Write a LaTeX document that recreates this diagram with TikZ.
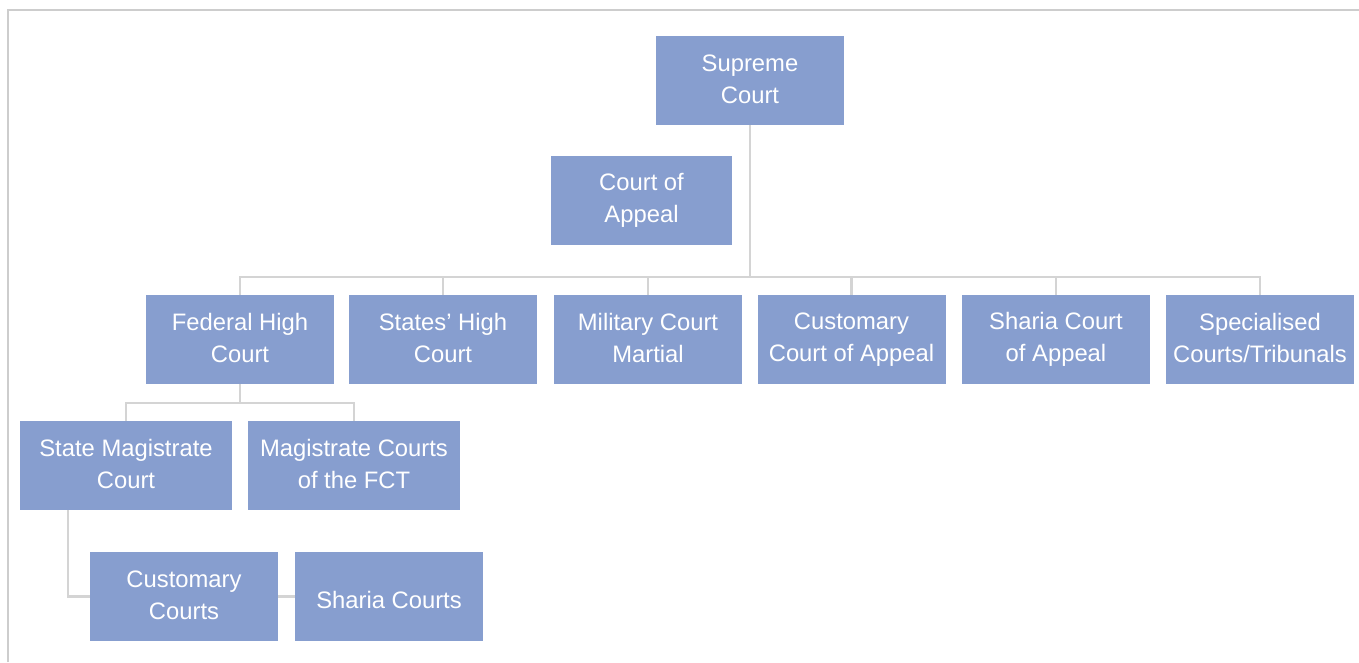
\documentclass[tikz,border=0pt]{standalone}
\usepackage{fontspec}
\setmainfont{Liberation Sans}
\definecolor{boxblue}{RGB}{135,158,207}
\definecolor{linegray}{RGB}{212,212,212}
\definecolor{framegray}{RGB}{205,205,205}
\newcommand\boxstrut{\rule[-3.6pt]{0pt}{32pt}}
\begin{document}
\begin{tikzpicture}[x=1pt,y=-1pt,
  box/.style={fill=boxblue, text=white, minimum width=188pt, minimum height=89pt,
    inner sep=0pt, align=center, font=\fontsize{23.8}{32}\selectfont,
    execute at begin node=\boxstrut, execute at end node=\boxstrut},
  widebox/.style={box, minimum width=212pt},
  conn/.style={draw=linegray, line width=2.6pt},
  frame/.style={draw=framegray, line width=2pt}]
\useasboundingbox (0,0) rectangle (1359,662);
\draw[frame] (8,662) -- (8,10) -- (1359,10);

\node[box] (sc) at (750,80.5) {Supreme\\Court};
\node[box, minimum width=181pt] (ca) at (641.5,200.5) {Court of\\Appeal};

\node[box] (fhc) at (240,339.5) {Federal High\\Court};
\node[box] (sthc) at (443,339.5) {States' High\\Court};
\node[box] (mcm) at (648,339.5) {Military Court\\Martial};
\node[box] (cca) at (851.5,339.5) {Customary\\Court of Appeal};
\node[box] (sca) at (1056,339.5) {Sharia Court\\of Appeal};
\node[box] (spec) at (1260,339.5) {Specialised\\Courts/Tribunals};

\node[widebox] (smc) at (126,465.5) {State Magistrate\\Court};
\node[widebox] (mfct) at (354,465.5) {Magistrate Courts\\of the FCT};

\node[box] (cc) at (184,596.5) {Customary\\Courts};
\node[box] (shc) at (389,596.5) {Sharia Courts};

\coordinate (busy) at (0,277);
\coordinate (smcx) at (68,510);

\draw[conn] (sc.south) -- (sc.south |- busy);
\draw[conn] (fhc.north) -- ++(0,-18) -| (spec.north);
\draw[conn] (sthc.north) -- ++(0,-18);
\draw[conn] (mcm.north) -- ++(0,-18);
\draw[conn] (cca.north) -- ++(0,-18);
\draw[conn] (sca.north) -- ++(0,-18);

\draw[conn] (fhc.south) -- ++(0,19);
\draw[conn] (smc.north) -- ++(0,-18) -| (mfct.north);

\draw[conn] (smcx) |- (cc.west);
\draw[conn] (cc.east) -- (shc.west);
\end{tikzpicture}
\end{document}
